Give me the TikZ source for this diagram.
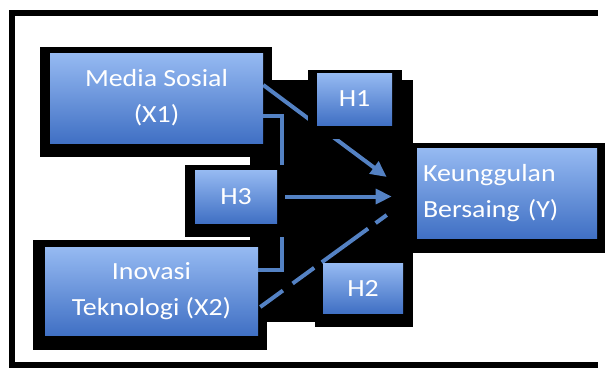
\documentclass[tikz,border=0pt]{standalone}
\usepackage{fontspec}
\setmainfont[FakeStretch=1.13]{Carlito}
\definecolor{boxtop}{RGB}{150,186,242}
\definecolor{boxbot}{RGB}{64,112,196}
\definecolor{linkblue}{RGB}{84,130,196}
\usetikzlibrary{arrows.meta,backgrounds}

\begin{document}
\begin{tikzpicture}[x=0.75pt,y=-0.75pt,
  varbox/.style={top color=boxtop,bottom color=boxbot,inner sep=0pt,text=white,
    align=center,font=\fontsize{18.5}{27}\selectfont},
  blackbg/.style={fill=black},
  link/.style={draw=linkblue,line width=3pt},
  arrowlink/.style={link,-{Triangle[length=12pt,width=11pt]}}
]
  \useasboundingbox (0,0) rectangle (605,369);

  \node[varbox,minimum width=159.75pt,minimum height=67.5pt] (x1) at (156.5,98) {Media Sosial\\(X1)};
  \node[varbox,minimum width=159.75pt,minimum height=66pt] (x2) at (151.5,291) {Inovasi\\Teknologi (X2)};
  \node[varbox,minimum height=67.5pt,text width=126pt,inner xsep=4.5pt,align=left] (y) at (507,193) {Keunggulan\\Bersaing (Y)};
  \node[varbox,minimum width=56.25pt,minimum height=39pt] (h1) at (354.5,99) {H1};
  \node[varbox,minimum width=60pt,minimum height=37.5pt] (h2) at (363,288) {H2};
  \node[varbox,minimum width=61.5pt,minimum height=39.75pt] (h3) at (236,196.5) {H3};

  \begin{scope}[on background layer]
    \fill[white] (0,0) rectangle (605,369);
    \draw[line width=4.5pt] (598,13) -- (12,13) -- (12,365) -- (598,365);
    \fill[blackbg] ([shift={(-10,-6)}]x1.north west) rectangle ([shift={(9,14)}]x1.south east);
    \fill[blackbg] ([shift={(-12,-7)}]x2.north west) rectangle ([shift={(9,15)}]x2.south east);
    \fill[blackbg] ([shift={(-5,-5)}]y.north west) rectangle ([shift={(8,15)}]y.south east);
    \fill[blackbg] ([shift={(-8,-8)}]h2.north west) rectangle ([shift={(10,14)}]h2.south east);
    \fill[blackbg] (250,80) rectangle (413,322);

    \draw[link] ([shift={(0,18)}]x1.east) -- ++(19,0) |- ([shift={(0,-21)}]x2.east);
    \draw[arrowlink] ([shift={(0,-13)}]x1.east) -- ([shift={(-30,-16)}]y.west);
    \draw[arrowlink] ([shift={(8,0)}]h3.east) -- ([shift={(-25,0)}]y.west |- h3.east);
    \draw[link,dash pattern=on 21pt off 9pt on 20pt off 7pt on 43pt off 7pt on 11pt off 20pt]
      ([shift={(2,16)}]x2.east) -- ([shift={(-30,22)}]y.west);

    \fill[blackbg] ([shift={(-9,-3)}]h1.north west) rectangle ([shift={(10,14)}]h1.south east);
    \fill[blackbg] ([shift={(-10,-5)}]h3.north west) rectangle ([shift={(7,14)}]h3.south east);
  \end{scope}
\end{tikzpicture}
\end{document}
